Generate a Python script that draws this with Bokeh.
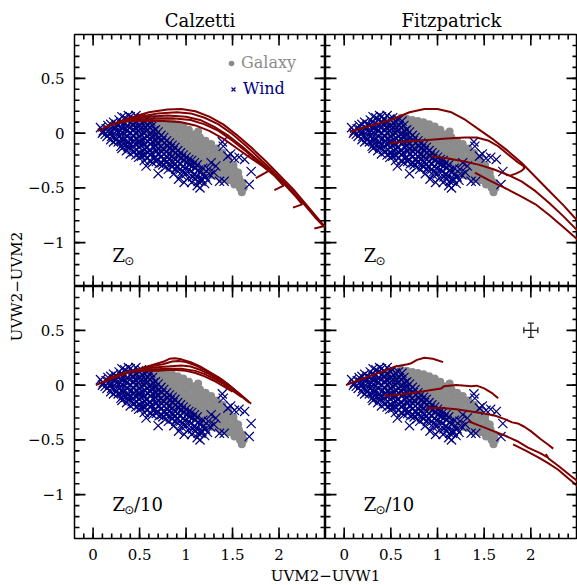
import math
from bokeh.plotting import figure
from bokeh.layouts import row, column
from bokeh.models import (Range1d, LinearAxis, FixedTicker, CustomJSTickFormatter,
                          Label, Legend, LegendItem, ColumnDataSource, Whisker, TeeHead)
from bokeh.embed import file_html
from bokeh.resources import INLINE

# ---------------- data ----------------
X_RANGE = (-0.2, 2.5)
Y_RANGE = (-1.4, 0.9)
X_MAJOR_TICKS = [0, 0.5, 1, 1.5, 2]
Y_MAJOR_TICKS = [-1, -0.5, 0, 0.5]
COLUMN_TITLES = ["Calzetti", "Fitzpatrick"]
ROW_SUFFIX = ["", "/10"]
X_LABEL = "UVM2\u2212UVW1"
Y_LABEL = "UVW2\u2212UVM2"
LEGEND_LABELS = ["Galaxy", "Wind"]

GALAXY_POINTS = [
    (0.47, 0.10), (0.50, 0.04), (0.48, -0.03), (0.52, 0.12),
    (0.55, 0.12), (0.56, 0.07), (0.54, 0.02),
    (0.61, 0.14), (0.62, 0.09), (0.60, 0.04), (0.61, -0.01),
    (0.67, 0.13), (0.68, 0.08), (0.66, 0.03), (0.67, -0.02), (0.68, -0.07),
    (0.73, 0.12), (0.74, 0.07), (0.72, 0.02), (0.73, -0.03), (0.74, -0.08), (0.72, -0.12),
    (0.79, 0.11), (0.80, 0.06), (0.78, 0.01), (0.79, -0.04), (0.80, -0.09), (0.78, -0.14),
    (0.85, 0.10), (0.86, 0.05), (0.84, 0.00), (0.85, -0.05), (0.86, -0.10), (0.84, -0.15), (0.86, -0.19),
    (0.91, 0.08), (0.92, 0.03), (0.90, -0.02), (0.91, -0.07), (0.92, -0.12), (0.90, -0.17), (0.92, -0.21),
    (0.97, 0.06), (0.98, 0.00), (0.96, -0.05), (0.97, -0.10), (0.98, -0.15), (0.96, -0.20), (0.98, -0.24),
    (1.03, 0.03), (1.04, -0.02), (1.02, -0.07), (1.03, -0.12), (1.04, -0.17), (1.02, -0.22), (1.04, -0.26),
    (1.09, -0.01), (1.10, -0.06), (1.08, -0.11), (1.09, -0.16), (1.10, -0.21), (1.08, -0.26), (1.10, -0.29),
    (1.13, 0.015),
    (1.15, -0.04), (1.16, -0.09), (1.14, -0.14), (1.15, -0.19), (1.16, -0.24), (1.14, -0.29), (1.16, -0.32),
    (1.21, -0.07), (1.22, -0.12), (1.20, -0.17), (1.21, -0.22), (1.22, -0.27), (1.20, -0.32), (1.22, -0.35),
    (1.27, -0.10), (1.28, -0.15), (1.26, -0.20), (1.27, -0.25), (1.28, -0.30), (1.26, -0.35), (1.28, -0.38),
    (1.33, -0.14), (1.34, -0.19), (1.32, -0.24), (1.33, -0.29), (1.34, -0.34), (1.32, -0.39),
    (1.39, -0.18), (1.40, -0.23), (1.38, -0.28), (1.39, -0.33), (1.40, -0.38), (1.38, -0.42),
    (1.45, -0.23), (1.46, -0.28), (1.44, -0.33), (1.45, -0.38), (1.46, -0.43),
    (1.51, -0.29), (1.52, -0.34), (1.50, -0.39), (1.51, -0.44), (1.52, -0.47),
    (1.56, -0.36), (1.57, -0.41), (1.55, -0.46), (1.58, -0.50),
    (1.61, -0.45), (1.62, -0.50), (1.60, -0.54),
]

WIND_POINTS = [
    (0.08, 0.05), (0.11, 0.02), (0.13, -0.01), (0.10, 0.00),
    (0.16, 0.07), (0.17, 0.03), (0.15, -0.03), (0.19, -0.06), (0.18, 0.00),
    (0.22, 0.10), (0.23, 0.05), (0.21, 0.01), (0.24, -0.04), (0.22, -0.08), (0.25, 0.08),
    (0.28, 0.12), (0.27, 0.07), (0.29, 0.02), (0.28, -0.03), (0.27, -0.08), (0.30, -0.12), (0.31, 0.15),
    (0.34, 0.14), (0.33, 0.09), (0.35, 0.04), (0.34, -0.01), (0.33, -0.06), (0.35, -0.11), (0.36, -0.16), (0.31, -0.14),
    (0.40, 0.15), (0.41, 0.10), (0.39, 0.05), (0.40, 0.00), (0.41, -0.05), (0.39, -0.10), (0.42, -0.15), (0.40, -0.19), (0.38, 0.16),
    (0.46, 0.16), (0.47, 0.10), (0.45, 0.05), (0.46, 0.00), (0.47, -0.05), (0.45, -0.10), (0.47, -0.15), (0.46, -0.20), (0.49, -0.22),
    (0.52, 0.14), (0.53, 0.09), (0.51, 0.04), (0.52, -0.01), (0.53, -0.06), (0.51, -0.11), (0.53, -0.16), (0.52, -0.21), (0.55, -0.25),
    (0.58, 0.12), (0.59, 0.07), (0.57, 0.02), (0.58, -0.03), (0.59, -0.08), (0.57, -0.13), (0.59, -0.18), (0.58, -0.23), (0.57, -0.30),
    (0.64, 0.07), (0.65, 0.02), (0.63, -0.03), (0.64, -0.08), (0.65, -0.13), (0.63, -0.18), (0.65, -0.23), (0.64, -0.27), (0.62, 0.11),
    (0.70, 0.01), (0.71, -0.04), (0.69, -0.09), (0.70, -0.14), (0.71, -0.19), (0.69, -0.24), (0.71, -0.28), (0.70, -0.37),
    (0.76, -0.04), (0.77, -0.09), (0.75, -0.14), (0.76, -0.19), (0.77, -0.24), (0.75, -0.29), (0.78, -0.31),
    (0.82, -0.09), (0.83, -0.14), (0.81, -0.19), (0.82, -0.24), (0.83, -0.29), (0.81, -0.33),
    (0.88, -0.13), (0.89, -0.18), (0.87, -0.23), (0.88, -0.28), (0.89, -0.33), (0.87, -0.37),
    (0.94, -0.18), (0.95, -0.23), (0.93, -0.28), (0.94, -0.33), (0.95, -0.38), (0.92, -0.42),
    (1.00, -0.22), (1.01, -0.27), (0.99, -0.32), (1.00, -0.37), (1.02, -0.41), (0.98, -0.45),
    (1.06, -0.25), (1.07, -0.30), (1.05, -0.35), (1.07, -0.40), (1.06, -0.45),
    (1.12, -0.29), (1.13, -0.34), (1.11, -0.39), (1.13, -0.44), (1.12, -0.48), (1.15, -0.50),
    (1.18, -0.32), (1.19, -0.37), (1.17, -0.42), (1.20, -0.46),
    (1.24, -0.33), (1.26, -0.38), (1.23, -0.43),
    (1.30, -0.36), (1.32, -0.30), (1.27, -0.27), (1.36, -0.44), (1.41, -0.44),
    (1.39, -0.08), (1.40, -0.12), (1.45, -0.21), (1.48, -0.19), (1.52, -0.23), (1.57, -0.22),
    (1.63, -0.24), (1.70, -0.35), (1.68, -0.47),
    (0.14, 0.04), (0.19, 0.08), (0.20, -0.03), (0.25, 0.02), (0.25, -0.06),
    (0.30, 0.10), (0.31, 0.05), (0.30, -0.01), (0.31, -0.06), (0.32, -0.10),
    (0.37, 0.12), (0.37, 0.07), (0.36, 0.02), (0.37, -0.03), (0.38, -0.08), (0.38, -0.13),
    (0.43, 0.13), (0.43, 0.08), (0.44, 0.03), (0.43, -0.02), (0.44, -0.07), (0.43, -0.12), (0.44, -0.17),
    (0.49, 0.13), (0.50, 0.07), (0.49, 0.02), (0.50, -0.03), (0.49, -0.08), (0.50, -0.13), (0.50, -0.18),
    (0.55, 0.11), (0.56, 0.05), (0.55, 0.00), (0.56, -0.05), (0.55, -0.10), (0.56, -0.15), (0.55, -0.20),
    (0.61, 0.05), (0.62, 0.00), (0.61, -0.05), (0.62, -0.10), (0.61, -0.15), (0.62, -0.20), (0.61, -0.25),
    (0.67, 0.03), (0.67, -0.02), (0.68, -0.07), (0.67, -0.12), (0.68, -0.17), (0.67, -0.22), (0.68, -0.26),
    (0.73, -0.02), (0.74, -0.07), (0.73, -0.12), (0.74, -0.17), (0.73, -0.22), (0.74, -0.27),
    (0.79, -0.07), (0.80, -0.12), (0.79, -0.17), (0.80, -0.22), (0.79, -0.27),
    (0.85, -0.11), (0.86, -0.16), (0.85, -0.21), (0.86, -0.26), (0.85, -0.31),
    (0.91, -0.16), (0.92, -0.21), (0.91, -0.26), (0.90, -0.31),
    (0.97, -0.20), (0.98, -0.25), (0.97, -0.30), (0.96, -0.35),
    (1.03, -0.24), (1.04, -0.29), (1.03, -0.33), (1.09, -0.27), (1.10, -0.32), (1.09, -0.37), (1.10, -0.42),
    (1.15, -0.36), (1.16, -0.44), (1.21, -0.40),
]

# model tracks: Calzetti, solar metallicity
CALZ_SUN_XS = [
    [0.05, 0.20, 0.40, 0.60, 0.80, 0.95, 1.10, 1.25, 1.40, 1.55, 1.70, 1.85, 2.00, 2.15, 2.30, 2.45, 2.58],
    [0.12, 0.30, 0.50, 0.70, 0.90, 1.05, 1.20, 1.35, 1.50, 1.65, 1.80, 1.95, 2.10, 2.25, 2.40, 2.48, 2.38],
    [0.20, 0.40, 0.60, 0.80, 1.00, 1.15, 1.30, 1.45, 1.60, 1.75, 1.90, 2.05, 2.18, 2.25, 2.15],
    [0.28, 0.45, 0.65, 0.85, 1.05, 1.20, 1.35, 1.50, 1.65, 1.80, 1.95, 2.05, 1.95],
    [0.35, 0.55, 0.75, 0.95, 1.10, 1.25, 1.40, 1.55, 1.70, 1.82, 1.89, 1.75],
]
CALZ_SUN_YS = [
    [0.02, 0.08, 0.14, 0.19, 0.215, 0.22, 0.20, 0.15, 0.08, -0.02, -0.13, -0.25, -0.38, -0.51, -0.66, -0.81, -0.95],
    [0.05, 0.10, 0.15, 0.18, 0.19, 0.18, 0.14, 0.08, -0.01, -0.12, -0.24, -0.36, -0.49, -0.63, -0.78, -0.85, -0.87],
    [0.08, 0.12, 0.15, 0.16, 0.15, 0.12, 0.06, -0.02, -0.12, -0.23, -0.34, -0.46, -0.58, -0.65, -0.68],
    [0.10, 0.11, 0.13, 0.135, 0.12, 0.08, 0.02, -0.07, -0.17, -0.28, -0.39, -0.48, -0.52],
    [0.12, 0.11, 0.11, 0.10, 0.07, 0.02, -0.05, -0.14, -0.23, -0.30, -0.345, -0.41],
]
# Calzetti, Z_sun/10
CALZ_TENTH_XS = [
    [0.03, 0.20, 0.40, 0.55, 0.70, 0.76, 0.82, 0.88, 0.95, 1.05, 1.15, 1.25, 1.35, 1.45, 1.55, 1.62, 1.70],
    [0.08, 0.25, 0.45, 0.60, 0.75, 0.85, 0.92, 1.00, 1.10, 1.20, 1.30, 1.40, 1.50, 1.60, 1.68],
    [0.15, 0.30, 0.50, 0.65, 0.80, 0.95, 1.05, 1.15, 1.25, 1.35, 1.45, 1.55, 1.65],
    [0.25, 0.40, 0.60, 0.80, 0.95, 1.10, 1.20, 1.30, 1.40, 1.50, 1.60],
    [0.35, 0.50, 0.70, 0.85, 1.00, 1.10, 1.20, 1.30, 1.40, 1.50],
]
CALZ_TENTH_YS = [
    [0.00, 0.06, 0.12, 0.16, 0.20, 0.215, 0.24, 0.245, 0.235, 0.21, 0.17, 0.12, 0.07, 0.01, -0.06, -0.11, -0.17],
    [0.02, 0.08, 0.13, 0.17, 0.19, 0.215, 0.22, 0.21, 0.18, 0.14, 0.09, 0.04, -0.03, -0.10, -0.16],
    [0.06, 0.10, 0.14, 0.16, 0.17, 0.18, 0.17, 0.14, 0.10, 0.05, -0.01, -0.07, -0.14],
    [0.09, 0.12, 0.14, 0.15, 0.15, 0.13, 0.10, 0.06, 0.01, -0.05, -0.11],
    [0.12, 0.13, 0.13, 0.14, 0.13, 0.11, 0.08, 0.04, -0.01, -0.06],
]
# Fitzpatrick, solar
FITZ_SUN_XS = [
    [0.06, 0.25, 0.50, 0.70, 0.86, 1.00, 1.15, 1.30, 1.45, 1.60, 1.75, 1.90, 2.05, 2.20, 2.35, 2.50, 2.58],
    [0.49, 0.70, 0.93, 1.10, 1.29, 1.42, 1.55, 1.65, 1.75, 1.85, 1.92, 1.93, 1.90, 1.84, 1.77],
    [0.93, 1.10, 1.29, 1.45, 1.60, 1.75, 1.90, 2.05, 2.20, 2.35, 2.50, 2.58],
    [1.40, 1.55, 1.72, 1.90, 2.05, 2.20, 2.35, 2.50, 2.58],
]
FITZ_SUN_YS = [
    [0.01, 0.06, 0.12, 0.19, 0.22, 0.22, 0.19, 0.12, 0.03, -0.06, -0.16, -0.27, -0.40, -0.53, -0.66, -0.80, -0.86],
    [-0.09, -0.075, -0.06, -0.05, -0.04, -0.04, -0.07, -0.12, -0.19, -0.26, -0.30, -0.32, -0.345, -0.37, -0.39],
    [-0.21, -0.23, -0.26, -0.29, -0.33, -0.38, -0.44, -0.53, -0.64, -0.76, -0.89, -0.95],
    [-0.36, -0.43, -0.50, -0.58, -0.65, -0.75, -0.86, -0.97, -1.02],
]
# Fitzpatrick, Z_sun/10
FITZ_TENTH_XS = [
    [0.02, 0.20, 0.40, 0.55, 0.68, 0.72, 0.78, 0.86, 0.95, 1.06],
    [0.43, 0.60, 0.75, 0.90, 1.04, 1.07, 1.20, 1.30, 1.36, 1.42, 1.50, 1.58, 1.65],
    [0.88, 1.05, 1.20, 1.36, 1.50, 1.62, 1.72, 1.80, 1.86, 1.93, 2.00, 2.10, 2.18, 2.24],
    [1.33, 1.45, 1.60, 1.72, 1.85, 1.97, 2.10, 2.18, 2.16, 2.19, 2.30, 2.43, 2.58],
    [1.81, 1.95, 2.08, 2.18, 2.29, 2.40, 2.50, 2.58],
]
FITZ_TENTH_YS = [
    [0.00, 0.06, 0.12, 0.17, 0.19, 0.20, 0.23, 0.25, 0.24, 0.21],
    [-0.10, -0.085, -0.07, -0.05, -0.03, -0.01, 0.00, -0.005, -0.01, -0.005, -0.03, -0.07, -0.12],
    [-0.21, -0.21, -0.22, -0.24, -0.26, -0.28, -0.31, -0.34, -0.35, -0.38, -0.42, -0.49, -0.54, -0.58],
    [-0.33, -0.37, -0.42, -0.46, -0.51, -0.57, -0.62, -0.66, -0.63, -0.67, -0.74, -0.83, -0.93],
    [-0.54, -0.60, -0.66, -0.71, -0.77, -0.85, -0.92, -0.97],
]
# typical error bar
ERR_X = [2.0]
ERR_Y = [0.5]
ERR_DX = [0.075]
ERR_DY = [0.065]

# ---------------- style ----------------
FONT = "DejaVu Serif"
GAL_COLOR = "#8c8c8c"
WIND_COLOR = "#000080"
TRACK_COLOR = "#800000"

GAL_X = [p[0] for p in GALAXY_POINTS]
GAL_Y = [p[1] for p in GALAXY_POINTS]
WIND_X = [p[0] for p in WIND_POINTS]
WIND_Y = [p[1] for p in WIND_POINTS]

X_MINOR = [round(X_RANGE[0] + 0.1 * i, 2) for i in range(1, 27)]
Y_MINOR = [round(Y_RANGE[0] + 0.1 * i, 2) for i in range(1, 23)]

YLAB_W = 25
LEFT_W, RIGHT_W = 300, 252
TOP_H, BOT_H = 286, 280
XLAB_H = 19
FRAME_W = FRAME_H = 252
MAJOR_PX, MINOR_PX = 11, 5
X_PER_PX = (X_RANGE[1] - X_RANGE[0]) / FRAME_W
Y_PER_PX = (Y_RANGE[1] - Y_RANGE[0]) / FRAME_H


def make_axis(dim):
    ticker = FixedTicker(ticks=X_MAJOR_TICKS if dim == "x" else Y_MAJOR_TICKS)
    fmt = CustomJSTickFormatter(
        code="const v = Math.round(tick*10)/10; return v.toString().replace('-', '\u2212');")
    ax = LinearAxis(ticker=ticker, formatter=fmt)
    ax.major_tick_in = 0
    ax.major_tick_out = 0
    ax.minor_tick_in = 0
    ax.minor_tick_out = 0
    ax.axis_line_color = None
    ax.major_tick_line_color = None
    ax.minor_tick_line_color = None
    ax.major_label_text_font = FONT
    ax.major_label_text_font_size = "15px"
    ax.major_label_text_color = "black"
    ax.major_label_standoff = 10
    return ax


def draw_ticks(p):
    # inward tick marks on all four sides of the frame (lengths given in pixels)
    xs, ys = [], []
    for ticks, ln in [(X_MAJOR_TICKS, MAJOR_PX), (X_MINOR, MINOR_PX)]:
        dy = ln * Y_PER_PX
        for t in ticks:
            xs += [[t, t], [t, t]]
            ys += [[Y_RANGE[0], Y_RANGE[0] + dy], [Y_RANGE[1], Y_RANGE[1] - dy]]
    for ticks, ln in [(Y_MAJOR_TICKS, MAJOR_PX), (Y_MINOR, MINOR_PX)]:
        dx = ln * X_PER_PX
        for t in ticks:
            ys += [[t, t], [t, t]]
            xs += [[X_RANGE[0], X_RANGE[0] + dx], [X_RANGE[1], X_RANGE[1] - dx]]
    p.multi_line(xs=xs, ys=ys, line_color="black", line_width=1.6)


def make_panel(col, rw, xs, ys):
    left = col == 0
    bottom = rw == 1
    p = figure(width=LEFT_W if left else RIGHT_W,
               height=TOP_H if rw == 0 else BOT_H,
               x_range=Range1d(*X_RANGE), y_range=Range1d(*Y_RANGE),
               output_backend="svg", toolbar_location=None, tools="",
               x_axis_location=None, y_axis_location=None,
               min_border=0,
               min_border_left=48 if left else 0, min_border_right=0,
               min_border_top=34 if rw == 0 else 0,
               min_border_bottom=28 if bottom else 0)
    p.grid.visible = False
    p.outline_line_color = "black"
    p.outline_line_width = 1.5
    p.background_fill_color = "white"
    p.border_fill_color = "white"
    if rw == 0:
        p.title.text = COLUMN_TITLES[col]
        p.title.align = "center"
        p.title.text_font = FONT
        p.title.text_font_size = "18px"
        p.title.text_font_style = "normal"
        p.title.text_color = "black"
        p.title.standoff = 7

    if left:
        p.add_layout(make_axis("y"), "left")
    if bottom:
        p.add_layout(make_axis("x"), "below")

    gal = p.scatter(GAL_X, GAL_Y, marker="circle", size=8,
                    fill_color=GAL_COLOR, line_color=None)
    wind = p.scatter(WIND_X, WIND_Y, marker="x", size=13,
                     line_color=WIND_COLOR, line_width=1.2)
    p.multi_line(xs=xs, ys=ys, line_color=TRACK_COLOR, line_width=2)
    draw_ticks(p)

    # metallicity tag
    zy = -1.12 if rw == 0 else -1.09
    p.add_layout(Label(x=0.21, y=zy, text="Z", text_font=FONT, text_font_size="18px",
                       text_align="left", text_baseline="alphabetic", text_color="black"))
    p.add_layout(Label(x=0.39, y=zy - 0.05, text="\u2299", text_font="DejaVu Sans",
                       text_font_size="12px", text_align="center",
                       text_baseline="middle", text_color="black"))
    if ROW_SUFFIX[rw]:
        p.add_layout(Label(x=0.44, y=zy, text=ROW_SUFFIX[rw], text_font=FONT,
                           text_font_size="18px", text_align="left",
                           text_baseline="alphabetic", text_color="black"))
    return p, gal, wind


tl, gal_tl, wind_tl = make_panel(0, 0, CALZ_SUN_XS, CALZ_SUN_YS)
tr, _, _ = make_panel(1, 0, FITZ_SUN_XS, FITZ_SUN_YS)
bl, _, _ = make_panel(0, 1, CALZ_TENTH_XS, CALZ_TENTH_YS)
br, _, _ = make_panel(1, 1, FITZ_TENTH_XS, FITZ_TENTH_YS)

# legend in the first panel
for lab, rend, color, loc in [(LEGEND_LABELS[0], gal_tl, GAL_COLOR, (150, 214)),
                              (LEGEND_LABELS[1], wind_tl, WIND_COLOR, (152, 188))]:
    leg = Legend(items=[LegendItem(label=lab, renderers=[rend])], location=loc,
                 padding=0, margin=0, spacing=0, glyph_width=14, glyph_height=14,
                 label_standoff=3, label_text_font=FONT, label_text_font_size="16px",
                 label_text_color=color, background_fill_alpha=0,
                 border_line_alpha=0)
    tl.add_layout(leg)

# error bar in the last panel
err_src = ColumnDataSource(dict(x=ERR_X, y=ERR_Y,
                                xl=[a - b for a, b in zip(ERR_X, ERR_DX)],
                                xu=[a + b for a, b in zip(ERR_X, ERR_DX)],
                                yl=[a - b for a, b in zip(ERR_Y, ERR_DY)],
                                yu=[a + b for a, b in zip(ERR_Y, ERR_DY)]))
for base, lo, up, dim in [("y", "xl", "xu", "width"), ("x", "yl", "yu", "height")]:
    w = Whisker(source=err_src, base=base, lower=lo, upper=up, dimension=dim,
                line_color="#222222", line_width=1.3,
                upper_head=TeeHead(size=6, line_color="#222222", line_width=1.3),
                lower_head=TeeHead(size=6, line_color="#222222", line_width=1.3))
    br.add_layout(w)


def label_fig(w, h, text, x, y, angle):
    f = figure(width=w, height=h, x_range=Range1d(0, w), y_range=Range1d(0, h),
               output_backend="svg", toolbar_location=None, tools="",
               x_axis_location=None, y_axis_location=None,
               min_border=0, min_border_left=0, min_border_right=0,
               min_border_top=0, min_border_bottom=0)
    f.grid.visible = False
    f.outline_line_color = None
    f.add_layout(Label(x=x, y=y, text=text, angle=angle, text_align="center",
                       text_baseline="middle", text_font=FONT, text_font_size="15px",
                       text_color="black"))
    return f


total_h = TOP_H + BOT_H + XLAB_H
ylab = label_fig(YLAB_W, total_h, Y_LABEL, 16, total_h - 286, math.pi / 2)
xlab = label_fig(LEFT_W + RIGHT_W, XLAB_H, X_LABEL, 300, 9.5, 0)

layout = row(ylab, column(row(tl, tr), row(bl, br), xlab))

with open("out.html", "w", encoding="utf-8") as fh:
    fh.write(file_html(layout, INLINE))
